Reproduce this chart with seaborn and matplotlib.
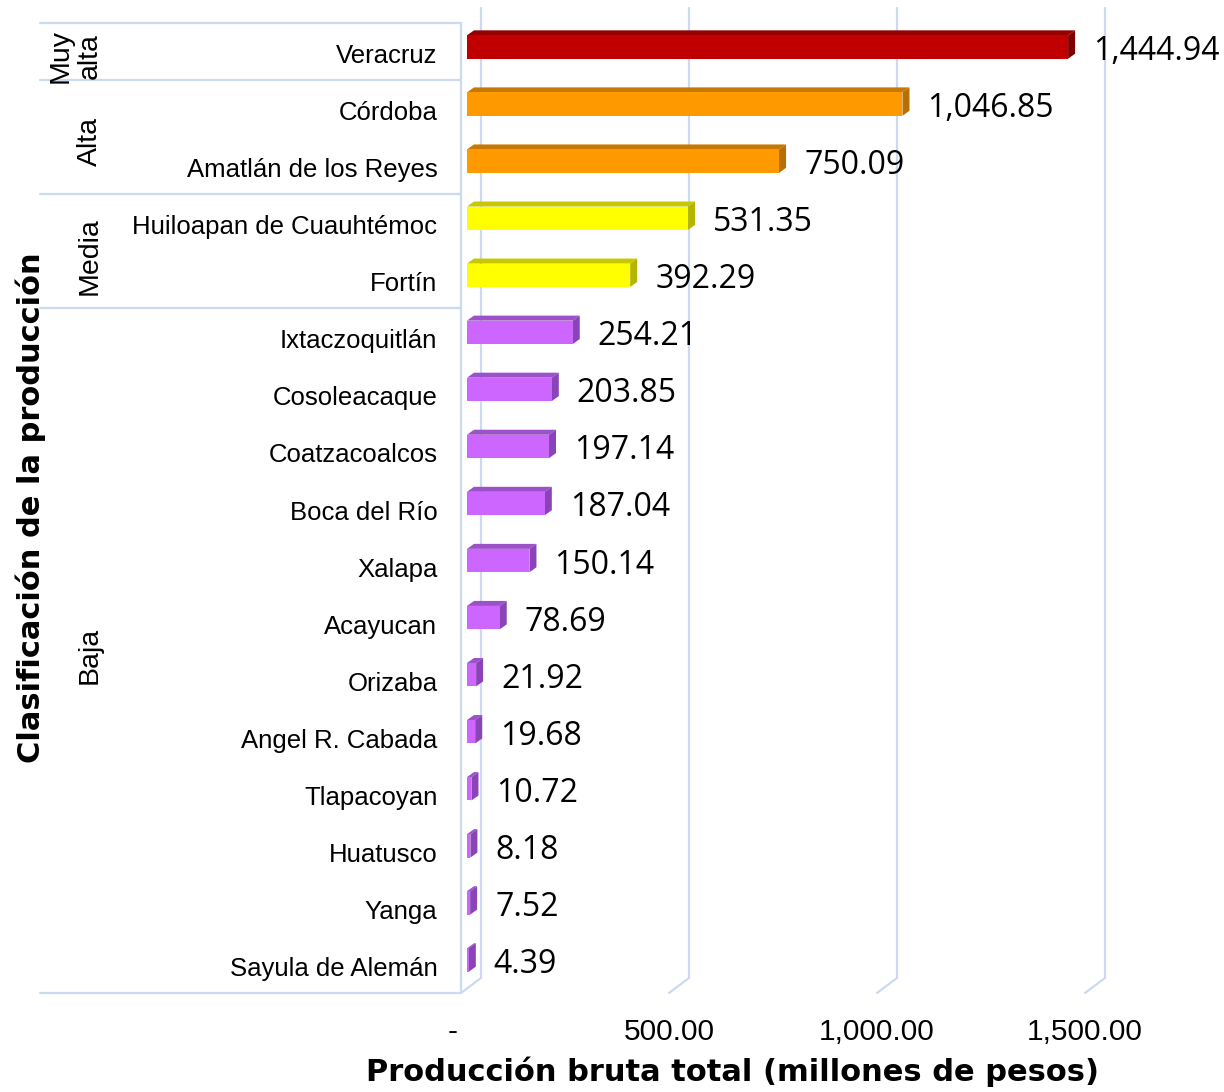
import numpy as np
import pandas as pd
import matplotlib
matplotlib.use("Agg")
import matplotlib.pyplot as plt
import matplotlib.transforms as mtransforms
from matplotlib.patches import Polygon
from matplotlib.lines import Line2D
from matplotlib.colors import to_hex
import seaborn as sns

# Producción bruta total por municipio (millones de pesos)
municipios = ["Veracruz", "Córdoba", "Amatlán de los Reyes", "Huiloapan de Cuauhtémoc",
              "Fortín", "Ixtaczoquitlán", "Cosoleacaque", "Coatzacoalcos", "Boca del Río",
              "Xalapa", "Acayucan", "Orizaba", "Angel R. Cabada", "Tlapacoyan", "Huatusco",
              "Yanga", "Sayula de Alemán"]
produccion = [1444.94, 1046.85, 750.09, 531.35, 392.29, 254.21, 203.85, 197.14, 187.04,
              150.14, 78.69, 21.92, 19.68, 10.72, 8.18, 7.52, 4.39]
clasificacion = ["Muy alta", "Alta", "Alta", "Media", "Media"] + ["Baja"] * 12
niveles = ["Muy alta", "Alta", "Media", "Baja"]
etiquetas_nivel = ["Muy\nalta", "Alta", "Media", "Baja"]
xticks = [0, 500, 1000, 1500]

color_frente = {"Muy alta": "#C00000", "Alta": "#FF9900", "Media": "#FFFF00", "Baja": "#CC66FF"}
color_techo = {"Muy alta": "#960000", "Alta": "#C77800", "Media": "#C8C800", "Baja": "#9B52C8"}
color_lado = {"Muy alta": "#7E0000", "Alta": "#B86E00", "Media": "#B5B500", "Baja": "#8A44B8"}
GRID = "#CCDAF0"

# pseudo-3D geometry, in pixels (dpi = 100)
DEPTH = (20, 15)      # front plane -> back wall
BAR_OFF = (6, 4.5)    # front plane -> bar front face
BAR_DEPTH = (7, 5)    # bar thickness

df = pd.DataFrame({"municipio": municipios, "valor": produccion, "nivel": clasificacion})

sns.set_theme(style="white")
plt.rcParams["font.family"] = ["Liberation Sans", "DejaVu Sans"]
plt.rcParams["text.color"] = "black"
plt.rcParams["xtick.color"] = "black"
plt.rcParams["ytick.color"] = "black"

W, H = 1224, 1092
fig = plt.figure(figsize=(W / 100, H / 100), dpi=100)
ax = fig.add_axes([461 / W, 99 / H, 624 / W, 970 / H])

sns.barplot(data=df, x="valor", y="municipio", hue="nivel", hue_order=niveles,
            palette=color_frente, dodge=False, width=0.41, orient="h",
            legend=False, ax=ax, saturation=1, linewidth=0)

ax.set_xlim(0, 1500)
ax.set_ylim(len(municipios) - 0.5, -0.5)
ax.set_autoscale_on(False)
ax.set_xlabel("")
ax.set_ylabel("")
for s in ["top", "right", "bottom"]:
    ax.spines[s].set_visible(False)
ax.spines["left"].set_color(GRID)
ax.spines["left"].set_linewidth(1.6)
ax.grid(False)

ax.set_xticks(xticks)
ax.set_xticklabels(["-" if v == 0 else f"{v:,.2f}" for v in xticks])
ax.tick_params(axis="x", length=0, pad=18, labelsize=21.5, labelcolor="black")
ax.tick_params(axis="y", length=0, pad=17, labelsize=18.5, labelcolor="black")
for lab in ax.get_yticklabels():
    lab.set_transform(lab.get_transform() + mtransforms.ScaledTranslation(0, -0.02, fig.dpi_scale_trans))
first = ax.get_xticklabels()[0]
first.set_transform(first.get_transform() + mtransforms.ScaledTranslation(-0.08, 0, fig.dpi_scale_trans))

fig.canvas.draw()
ident = mtransforms.IdentityTransform()
to_px = ax.transData.transform

# back wall grid lines with floor diagonals
y_top = ax.transAxes.transform((0, 1))[1]
y_bot = ax.transAxes.transform((0, 0))[1]
for xv in xticks:
    xf = to_px((xv, 0))[0]
    ax.add_line(Line2D([xf + DEPTH[0], xf + DEPTH[0], xf], [y_top + DEPTH[1], y_bot + DEPTH[1], y_bot],
                       transform=ident, color=GRID, lw=1.6, clip_on=False, zorder=0.5))

# group separators in the category label band
lab_x0 = (40 - 461) / 624
for yb in [-0.5, 0.5, 2.5, 4.5, len(municipios) - 0.5]:
    ax.plot([lab_x0, 0], [yb, yb], transform=ax.get_yaxis_transform(), color=GRID,
            lw=1.6, clip_on=False, zorder=0.5)

# group names
grp_tr = mtransforms.blended_transform_factory(fig.transFigure, ax.transData)
for nivel, etiqueta in zip(niveles, etiquetas_nivel):
    filas = [i for i, c in enumerate(clasificacion) if c == nivel]
    yc = (filas[0] + filas[-1]) / 2 + 0.08
    xc = 75 / W if "\n" in etiqueta else 90 / W
    ax.text(xc, yc, etiqueta, transform=grp_tr, rotation=90, ha="center", va="center",
            multialignment="center", fontsize=20.5, linespacing=1.15, color="black",
            clip_on=False)

# bar faces: shift the front faces and add tops and sides
bar_shift = mtransforms.ScaledTranslation(BAR_OFF[0] / 100, BAR_OFF[1] / 100, fig.dpi_scale_trans)
inv_front = {to_hex(c).lower(): k for k, c in color_frente.items()}
for p in list(ax.patches):
    nivel = inv_front.get(to_hex(p.get_facecolor()).lower())
    if nivel is None:
        continue
    x0, y0, w, h = p.get_x(), p.get_y(), p.get_width(), p.get_height()
    (ax0, ay0), (ax1, ay1) = to_px((x0, y0)), to_px((x0 + w, y0 + h))
    left, right = min(ax0, ax1) + BAR_OFF[0], max(ax0, ax1) + BAR_OFF[0]
    low, high = min(ay0, ay1) + BAR_OFF[1], max(ay0, ay1) + BAR_OFF[1]
    dx, dy = BAR_DEPTH
    top = Polygon([(left, high), (left + dx, high + dy), (right + dx, high + dy), (right, high)],
                  closed=True, transform=ident, facecolor=color_techo[nivel], edgecolor="none",
                  clip_on=False, zorder=2)
    side = Polygon([(right, high), (right + dx, high + dy), (right + dx, low + dy), (right, low)],
                   closed=True, transform=ident, facecolor=color_lado[nivel], edgecolor="none",
                   clip_on=False, zorder=2)
    ax.add_patch(top)
    ax.add_patch(side)
    p.set_transform(ax.transData + bar_shift)
    p.set_zorder(2.1)
    p.set_clip_on(False)

# value labels
for i, v in enumerate(produccion):
    ax.annotate(f"{v:,.2f}", xy=(v, i), xytext=(22.3, 0), textcoords="offset points",
                ha="left", va="center", fontsize=23, family=["Open Sans", "DejaVu Sans"],
                color="black", zorder=3, annotation_clip=False)

fig.text(31 / W, 1 - 508 / H, "Clasificación de la producción", rotation=90, ha="center",
         va="center", fontsize=22, fontweight="bold", family=["DejaVu Sans"], color="black")
fig.text(732 / W, 1 - 1072 / H, "Producción bruta total (millones de pesos)", ha="center",
         va="center", fontsize=22, fontweight="bold", family=["DejaVu Sans"], color="black")

fig.savefig("out.png", dpi=100, facecolor="white")
